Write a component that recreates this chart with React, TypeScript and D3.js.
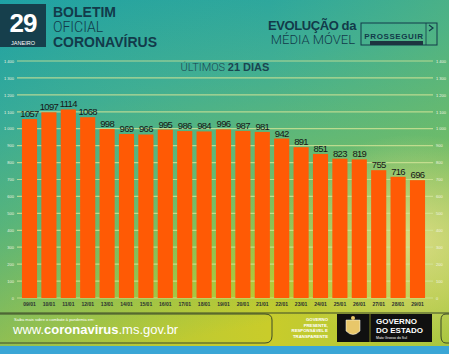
import * as d3 from 'd3';
import { useEffect, useRef } from 'react';

const DATES = [
    '09/01', '10/01', '11/01', '12/01', '13/01', '14/01', '15/01', '16/01', '17/01', '18/01', '19/01',
    '20/01', '21/01', '22/01', '23/01', '24/01', '25/01', '26/01', '27/01', '28/01', '29/01',
];
const MEDIA_MOVEL = [
    1057, 1097, 1114, 1068, 998, 969, 966, 995, 986, 984, 996, 987, 981, 942, 891, 851, 823, 819, 755, 716, 696,
];
const Y_TICKS = [0, 100, 200, 300, 400, 500, 600, 700, 800, 900, 1000, 1100, 1200, 1300, 1400];

const W = 449;
const H = 354;
const NAVY = '#123a4a';

export default function App() {
    const chartRef = useRef<SVGGElement>(null);

    useEffect(() => {
        if (!chartRef.current) return;
        const g = d3.select(chartRef.current);
        g.selectAll('*').remove();

        const x = d3.scaleBand<string>().domain(DATES).range([20, 427]).paddingInner(0.22).paddingOuter(0.1);
        const y = d3.scaleLinear().domain([0, 1400]).range([298, 61]);
        const fmt = (v: number) => d3.format(',')(v).replace(',', ' ');

        // gridlines
        g.append('g')
            .selectAll('line')
            .data(Y_TICKS)
            .join('line')
            .attr('x1', 17)
            .attr('x2', 433)
            .attr('y1', (d) => y(d))
            .attr('y2', (d) => y(d))
            .attr('stroke', '#d2e496')
            .attr('stroke-opacity', 0.8)
            .attr('stroke-width', 1.2);

        // axis labels on both sides
        const axisL = d3.axisLeft(y).tickValues(Y_TICKS).tickSize(0).tickPadding(0).tickFormat((d) => fmt(+d));
        const axisR = d3.axisRight(y).tickValues(Y_TICKS).tickSize(0).tickPadding(0).tickFormat((d) => fmt(+d));
        for (const [ax, tx] of [[axisL, 14], [axisR, 436]] as const) {
            g.append('g')
                .attr('transform', `translate(${tx},0)`)
                .call(ax as any)
                .call((s) => s.select('.domain').remove())
                .call((s) =>
                    s
                        .selectAll('text')
                        .attr('font-size', 4)
                        .attr('font-family', 'Liberation Sans, Arial, sans-serif')
                        .attr('fill', '#f2f4e0')
                );
        }

        // bars
        g.append('g')
            .selectAll('rect')
            .data(MEDIA_MOVEL)
            .join('rect')
            .attr('x', (_, i) => x(DATES[i])!)
            .attr('width', x.bandwidth())
            .attr('y', (d) => y(d))
            .attr('height', (d) => y(0) - y(d))
            .attr('fill', '#ff5a05');

        // value labels
        g.append('g')
            .selectAll('text')
            .data(MEDIA_MOVEL)
            .join('text')
            .attr('x', (_, i) => x(DATES[i])! + x.bandwidth() / 2)
            .attr('y', (d) => y(d) - 2)
            .attr('text-anchor', 'middle')
            .attr('font-size', 9.5)
            .attr('letter-spacing', -0.7)
            .attr('font-family', 'Liberation Sans, Arial, sans-serif')
            .attr('fill', '#161616')
            .text((d) => d);

        // date labels
        g.append('g')
            .attr('transform', 'translate(0,298)')
            .call(d3.axisBottom(x).tickSize(0).tickPadding(4))
            .call((s) => s.select('.domain').remove())
            .call((s) =>
                s
                    .selectAll('text')
                    .attr('font-size', 5)
                    .attr('font-weight', 'bold')
                    .attr('font-family', 'Liberation Sans, Arial, sans-serif')
                    .attr('fill', '#2a3030')
            );
    }, []);

    return (
        <svg width={W} height={H} viewBox={`0 0 ${W} ${H}`} style={{ position: 'absolute', left: 0, top: 0 }}>
            <defs>
                <linearGradient id="bg" x1="0" y1="0" x2="0.25" y2="1">
                    <stop offset="0" stopColor="#1fa1a4" />
                    <stop offset="0.3" stopColor="#3fae94" />
                    <stop offset="0.6" stopColor="#6cbb6c" />
                    <stop offset="0.85" stopColor="#a8c640" />
                    <stop offset="1" stopColor="#c9cc2a" />
                </linearGradient>
                <linearGradient id="bgR" x1="0" y1="0" x2="1" y2="0">
                    <stop offset="0" stopColor="#1aa0a8" stopOpacity="0.25" />
                    <stop offset="0.6" stopColor="#5cb87c" stopOpacity="0" />
                    <stop offset="1" stopColor="#6cbb68" stopOpacity="0.35" />
                </linearGradient>
                <radialGradient id="haze" cx="0.92" cy="0.68" r="0.3">
                    <stop offset="0" stopColor="#e4e08a" stopOpacity="0.85" />
                    <stop offset="1" stopColor="#e4e08a" stopOpacity="0" />
                </radialGradient>
            </defs>
            <rect width={W} height={H} fill="url(#bg)" />
            <rect width={W} height={H} fill="url(#bgR)" />
            <rect width={W} height={H} fill="url(#haze)" />

            {/* header left */}
            <rect x={0} y={4} width={46} height={43} fill="#163f4c" />
            <text x={23} y={32} textAnchor="middle" fontSize={26} fontWeight="bold" fill="#fff"
                fontFamily="Liberation Sans, Arial, sans-serif" letterSpacing={-1}>29</text>
            <text x={23} y={45} textAnchor="middle" fontSize={5.5} fill="#fff"
                fontFamily="Liberation Sans, Arial, sans-serif">JANEIRO</text>
            <g fontFamily="Liberation Sans, Arial, sans-serif" fill={NAVY}>
                <text x={53} y={17} fontSize={14} fontWeight="bold">BOLETIM</text>
                <text x={53} y={32} fontSize={14} style={{ fontFamily: 'Roboto, Liberation Sans', fontWeight: 300 }}>OFICIAL</text>
                <text x={53} y={47} fontSize={14} fontWeight="bold">CORONAVÍRUS</text>
            </g>

            {/* header right */}
            <g fontFamily="Liberation Sans, Arial, sans-serif" fill={NAVY} textAnchor="end">
                <text x={356} y={30} fontSize={13} fontWeight="bold" letterSpacing={-0.4}>EVOLUÇÃO da</text>
                <text x={355} y={44} fontSize={13} style={{ fontFamily: 'Roboto', fontWeight: 300 }}>MÉDIA MÓVEL</text>
            </g>
            <rect x={361} y={23} width={76} height={22} fill="none" stroke={NAVY} strokeWidth={1} />
            <line x1={426} y1={23} x2={426} y2={45} stroke={NAVY} strokeWidth={0.8} />
            <text x={394} y={39} textAnchor="middle" fontSize={8} fontWeight="bold" fill={NAVY}
                fontFamily="Liberation Sans, Arial, sans-serif" letterSpacing={0.6}>PROSSEGUIR</text>
            <path d="M429,25 L433,28 L429,31" fill="none" stroke={NAVY} strokeWidth={1.2} />
            <rect x={370} y={41} width={53} height={4} fill="#1d3440" />

            {/* chart title */}
            <text x={225} y={71} textAnchor="middle" fontSize={11} fill="#1b4550"
                fontFamily="Liberation Sans, Arial, sans-serif">
                <tspan style={{ fontFamily: 'Roboto', fontWeight: 300 }}>ÚLTIMOS </tspan>
                <tspan fontWeight="bold">21 DIAS</tspan>
            </text>

            <g ref={chartRef} />

            {/* footer */}
            <line x1={0} y1={313} x2={W} y2={313} stroke="#3d4a28" strokeWidth={1.2} />
            <path d="M0,314 L265,314 Q272,314 272,320 L272,336 Q272,343 265,343 L0,343" fill="none"
                stroke="#3d4a28" strokeWidth={1} />
            <text x={14} y={321} fontSize={4} fill="#fff" fontFamily="Liberation Sans, Arial, sans-serif">
                Saiba mais sobre o combate à pandemia em:
            </text>
            <text x={13} y={334} fontSize={13} fill="#fff" fontFamily="Liberation Sans, Arial, sans-serif">
                www.<tspan fontWeight="bold">coronavirus</tspan>.ms.gov.br
            </text>
            <g fontFamily="Liberation Sans, Arial, sans-serif" fontSize={4.3} fontWeight="bold" fill="#fff" textAnchor="end">
                <text x={328} y={321}>GOVERNO</text>
                <text x={328} y={326.5}>PRESENTE,</text>
                <text x={328} y={332}>RESPONSÁVEL E</text>
                <text x={328} y={337.5}>TRANSPARENTE</text>
            </g>
            <rect x={337} y={314} width={95} height={28} fill="#101010" />
            <line x1={370} y1={314} x2={370} y2={342} stroke="#c9cc2a" strokeWidth={0.6} />
            <path d="M346,320 L360,320 L360,331 Q353,338 346,331 Z" fill="#e8c76a" stroke="#fff" strokeWidth={0.5} />
            <circle cx={353} cy={318} r={2} fill="#e8c76a" />
            <g fontFamily="Liberation Sans, Arial, sans-serif" fill="#fff">
                <text x={376} y={324} fontSize={8} fontWeight="bold">GOVERNO</text>
                <text x={376} y={333} fontSize={8} fontWeight="bold">DO ESTADO</text>
                <text x={376} y={339} fontSize={3.5}>Mato Grosso do Sul</text>
            </g>
            <path d="M449,314 L446,314 Q441,314 441,320 L441,336 Q441,343 446,343 L449,343" fill="none"
                stroke="#3d4a28" strokeWidth={1} />
            <rect x={0} y={346} width={W} height={8} fill="#3aa6d6" />
        </svg>
    );
}
